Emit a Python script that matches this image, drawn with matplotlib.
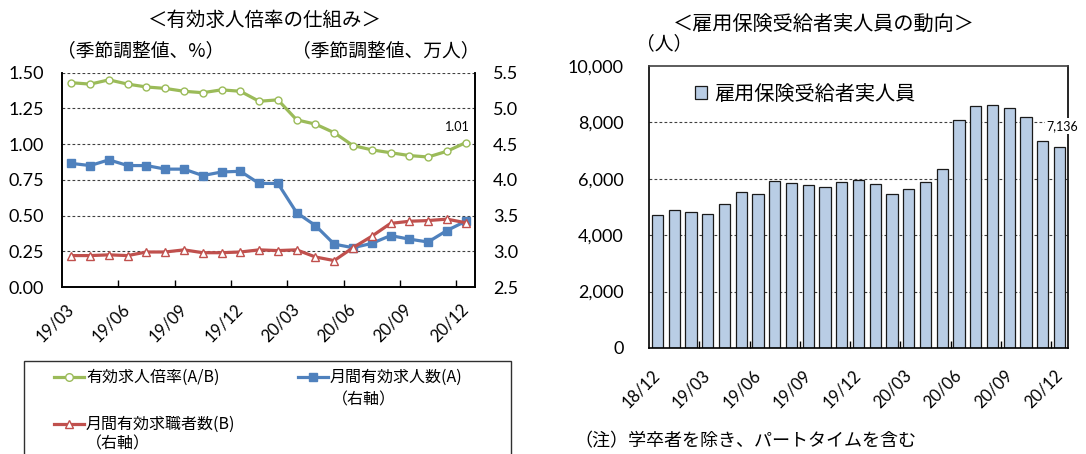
import matplotlib
matplotlib.use("Agg")
import matplotlib.pyplot as plt
from matplotlib.lines import Line2D
from matplotlib.patches import Rectangle
import numpy as np

JP = ['Noto Sans CJK JP', 'DejaVu Sans']
NUM = ['Lato', 'DejaVu Sans']
plt.rcParams['font.family'] = JP

# ---------------- data ----------------
months_left = ['19/03', '19/04', '19/05', '19/06', '19/07', '19/08', '19/09', '19/10',
               '19/11', '19/12', '20/01', '20/02', '20/03', '20/04', '20/05', '20/06',
               '20/07', '20/08', '20/09', '20/10', '20/11', '20/12']
ratio_ab = [1.43, 1.42, 1.45, 1.42, 1.40, 1.39, 1.37, 1.36, 1.38, 1.37, 1.30, 1.31,
            1.17, 1.14, 1.08, 0.99, 0.96, 0.94, 0.92, 0.91, 0.95, 1.01]
openings_a = [4.23, 4.20, 4.28, 4.20, 4.20, 4.15, 4.15, 4.06, 4.11, 4.12, 3.95, 3.95,
              3.54, 3.36, 3.10, 3.05, 3.11, 3.22, 3.17, 3.13, 3.29, 3.42]
seekers_b = [2.94, 2.94, 2.95, 2.94, 2.99, 2.99, 3.02, 2.98, 2.98, 2.99, 3.02, 3.01,
             3.02, 2.92, 2.87, 3.05, 3.21, 3.39, 3.42, 3.43, 3.45, 3.40]
left_label_idx = [0, 3, 6, 9, 12, 15, 18, 21]

months_right = ['18/12', '19/01', '19/02', '19/03', '19/04', '19/05', '19/06', '19/07',
                '19/08', '19/09', '19/10', '19/11', '19/12', '20/01', '20/02', '20/03',
                '20/04', '20/05', '20/06', '20/07', '20/08', '20/09', '20/10', '20/11',
                '20/12']
recipients = [4722, 4876, 4805, 4757, 5124, 5515, 5444, 5917, 5834, 5763, 5716, 5882,
              5953, 5799, 5444, 5633, 5870, 6355, 8071, 8592, 8627, 8521, 8189, 7349,
              7136]
right_label_idx = [0, 3, 6, 9, 12, 15, 18, 21, 24]

GREEN = '#9BBB59'
BLUE = '#4F81BD'
RED = '#C0504D'
BAR = '#B9CDE5'

W, H = 1086, 454
fig = plt.figure(figsize=(W / 100, H / 100), dpi=100)


def fx(px):
    return px / W


def fy(py):
    return 1 - py / H


def style_grid(a, vals):
    for v in vals:
        a.axhline(v, color='#404040', lw=0.8, ls=(0, (2.5, 2)), zorder=0.5)


# ---------------- left chart ----------------
ax = fig.add_axes([fx(62), fy(287), fx(475 - 62), (287 - 72.7) / H])
ax2 = ax.twinx()
x = np.arange(len(months_left))

ax.set_xlim(-0.5, len(months_left) - 0.5)
ax.set_ylim(0, 1.5)
ax2.set_ylim(2.5, 5.5)
style_grid(ax, [0.25, 0.5, 0.75, 1.0, 1.25, 1.5])

ax.plot(x, ratio_ab, color=GREEN, lw=2.3, marker='o', ms=5, mfc='white',
        mec=GREEN, mew=1.0, zorder=3)
ax2.plot(x, openings_a, color=BLUE, lw=2.3, marker='s', ms=5.5, mfc=BLUE,
         mec=BLUE, zorder=3)
ax2.plot(x, seekers_b, color=RED, lw=2.3, marker='^', ms=6, mfc='white',
         mec=RED, mew=1.0, zorder=3)

ax.set_yticks([0, 0.25, 0.5, 0.75, 1.0, 1.25, 1.5])
ax.set_yticklabels([f'{v:.2f}' for v in [0, 0.25, 0.5, 0.75, 1.0, 1.25, 1.5]],
                   family=NUM, fontsize=13)
ax2.set_yticks([2.5, 3.0, 3.5, 4.0, 4.5, 5.0, 5.5])
ax2.set_yticklabels([f'{v:.1f}' for v in [2.5, 3.0, 3.5, 4.0, 4.5, 5.0, 5.5]],
                    family=NUM, fontsize=13)
ax.tick_params(axis='y', length=0, pad=13)
ax2.tick_params(axis='y', length=0, pad=13)

ax.set_xticks(left_label_idx)
ax.set_xticklabels([months_left[i] for i in left_label_idx], rotation=45,
                   ha='right', va='center', rotation_mode='anchor',
                   family=NUM, fontsize=12)
ax.tick_params(axis='x', length=0, pad=14)
ax.set_xticks(np.arange(2.5, len(months_left) - 1, 3), minor=True)
ax.tick_params(axis='x', which='minor', direction='in', length=5, width=1,
               color='black')

for a in (ax, ax2):
    a.spines['top'].set_visible(False)
    for s in ('left', 'right', 'bottom'):
        a.spines[s].set_linewidth(1.2)
        a.spines[s].set_color('black')
ax.patch.set_visible(False)

ax.annotate(f'{ratio_ab[-1]:.2f}', xy=(x[-1], ratio_ab[-1]), xytext=(-6, 11),
            textcoords='offset points', ha='center', va='center',
            family=NUM, fontsize=9)

fig.text(fx(265), fy(20), '＜有効求人倍率の仕組み＞', ha='center', va='center',
         fontsize=14)
fig.text(fx(57), fy(51), '（季節調整値、%）', ha='left', va='center', fontsize=13.5)
fig.text(fx(292), fy(51), '（季節調整値、万人）', ha='left', va='center', fontsize=13.5)

# manual legend box
fig.patches.append(Rectangle((fx(24), fy(470)), fx(511 - 24), (470 - 361) / H,
                             transform=fig.transFigure, fill=False,
                             edgecolor='#303030', lw=1.0))


def handle(x0, x1, yy, color, marker, mfc):
    fig.lines.append(Line2D([fx(x0), fx(x1)], [fy(yy), fy(yy)],
                            transform=fig.transFigure, color=color, lw=2.3))
    fig.lines.append(Line2D([fx((x0 + x1) / 2)], [fy(yy)],
                            transform=fig.transFigure, color=color, marker=marker,
                            ms=6 if marker == '^' else 5.5, mfc=mfc, mec=color,
                            mew=1.0, lw=0))


handle(54, 84, 377, GREEN, 'o', 'white')
fig.text(fx(86), fy(377), '有効求人倍率(A/B)', ha='left', va='center', fontsize=11.5)
handle(298, 328, 377, BLUE, 's', BLUE)
fig.text(fx(330), fy(377), '月間有効求人数(A)', ha='left', va='center', fontsize=11.5)
fig.text(fx(332), fy(400), '（右軸）', ha='left', va='center', fontsize=11.5)
handle(54, 84, 424, RED, '^', 'white')
fig.text(fx(86), fy(424), '月間有効求職者数(B)', ha='left', va='center', fontsize=11.5)
fig.text(fx(86), fy(444), '（右軸）', ha='left', va='center', fontsize=11.5)

# ---------------- right chart ----------------
bx = fig.add_axes([fx(649), fy(348), fx(1068 - 649), (348 - 66) / H])
xr = np.arange(len(months_right))
bx.set_xlim(-0.5, len(months_right) - 0.5)
bx.set_ylim(0, 10000)
style_grid(bx, [2000, 4000, 6000, 8000])
bx.bar(xr, recipients, width=0.67, color=BAR, edgecolor='#1a1a1a', lw=0.9,
       zorder=2, label='雇用保険受給者実人員')

yt = [0, 2000, 4000, 6000, 8000, 10000]
bx.set_yticks(yt)
bx.set_yticklabels([f'{v:,}' for v in yt], family=NUM, fontsize=13)
bx.tick_params(axis='y', length=0, pad=18)
bx.set_xticks(right_label_idx)
bx.set_xticklabels([months_right[i] for i in right_label_idx], rotation=45,
                   ha='right', va='center', rotation_mode='anchor',
                   family=NUM, fontsize=12)
bx.tick_params(axis='x', length=0, pad=18)
bx.set_xticks(np.arange(2.5, len(months_right) - 1, 3), minor=True)
bx.tick_params(axis='x', which='minor', direction='in', length=5, width=1,
               color='black')
for s in ('left', 'right', 'bottom', 'top'):
    bx.spines[s].set_linewidth(1.2)
    bx.spines[s].set_color('black')
bx.spines['top'].set_color('#404040')

bx.annotate(f'{recipients[-1]:,}', xy=(xr[-1], recipients[-1]), xytext=(2, 15),
            textcoords='offset points', ha='center', va='center',
            family=NUM, fontsize=9,
            bbox=dict(boxstyle='square,pad=0.15', fc='white', ec='none'),
            annotation_clip=False, zorder=5)

leg = bx.legend(loc='upper left', bbox_to_anchor=(0.08, 0.98), frameon=False,
                fontsize=14.5, handlelength=0.6, handleheight=0.6,
                handletextpad=0.4, borderaxespad=0.2)

fig.text(fx(824), fy(24), '＜雇用保険受給者実人員の動向＞', ha='center', va='center',
         fontsize=14.5)
fig.text(fx(636), fy(44), '（人）', ha='left', va='center', fontsize=13.5)
fig.text(fx(574), fy(441), '（注）学卒者を除き、パートタイムを含む', ha='left',
         va='center', fontsize=13)

fig.savefig('out.png', dpi=100)
